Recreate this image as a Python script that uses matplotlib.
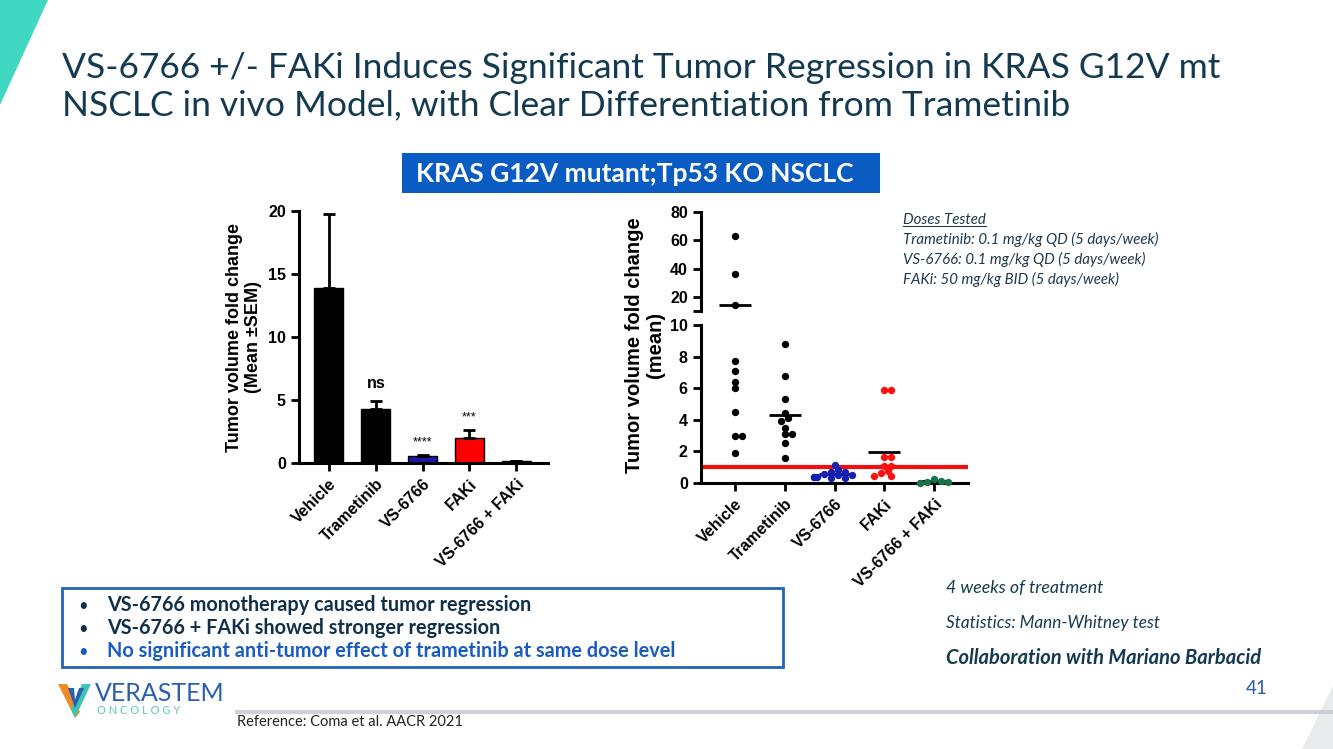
import matplotlib.pyplot as plt
from matplotlib.patches import Polygon, Rectangle
import numpy as np

# ---- data ----
groups = ["Vehicle", "Trametinib", "VS-6766", "FAKi", "VS-6766 + FAKi"]

bar_mean = [13.9, 4.3, 0.55, 1.95, 0.12]
bar_sem = [5.8, 0.6, 0.07, 0.65, 0.03]
bar_colors = ["black", "black", "#1a1aa6", "#ff0000", "black"]
bar_signif = ["ns", "****", "***"]
bar_signif_idx = [1, 2, 3]

vehicle_pts = [63, 36, 14.5, 7.7, 7.1, 6.4, 6.0, 4.5, 3.0, 3.0, 1.9]
trametinib_pts = [8.8, 6.8, 5.3, 4.4, 4.1, 3.9, 3.5, 3.1, 3.1, 2.5, 1.6]
vs6766_pts = [1.12, 0.85, 0.7, 0.7, 0.6, 0.49, 0.49, 0.38, 0.38, 0.38, 0.34, 0.34]
faki_pts = [5.9, 5.9, 1.65, 1.65, 1.05, 1.05, 0.75, 0.62, 0.45, 0.45]
combo_pts = [0.25, 0.15, 0.05, 0.05, 0.02]
scatter_data = [vehicle_pts, trametinib_pts, vs6766_pts, faki_pts, combo_pts]
scatter_colors = ["black", "black", "#1420b4", "#ff1010", "#17734a"]
baseline = 1.0

doses = ["Trametinib: 0.1 mg/kg QD (5 days/week)",
         "VS-6766: 0.1 mg/kg QD (5 days/week)",
         "FAKi: 50 mg/kg BID (5 days/week)"]

navy = "#133a50"
chart_font = "Liberation Sans"
slide_font = "Lato"

fig = plt.figure(figsize=(13.33, 7.49), dpi=100)

# ---- slide background layer (pixel coords) ----
bg = fig.add_axes([0, 0, 1, 1], zorder=0)
bg.set_xlim(0, 1333)
bg.set_ylim(749, 0)
bg.axis("off")

bg.add_patch(Polygon([(0, 0), (48, 0), (0, 105)], closed=True, color="#40d8c2", lw=0))
bg.add_patch(Polygon([(1333, 686), (1333, 749), (1302, 749)], closed=True, color="#e8eaec", lw=0))

bg.text(62, 78, "VS-6766 +/- FAKi Induces Significant Tumor Regression in KRAS G12V mt",
        fontsize=25.5, color=navy, family=slide_font, va="baseline")
bg.text(62, 115, "NSCLC in vivo Model, with Clear Differentiation from Trametinib",
        fontsize=25.5, color=navy, family=slide_font, va="baseline")

bg.add_patch(Rectangle((402, 153), 478, 40, color="#0a5bc2", lw=0))
bg.text(635, 174, "KRAS G12V mutant;Tp53 KO NSCLC", fontsize=19, color="white",
        family=slide_font, weight="bold", ha="center", va="center")

dose_title = bg.text(903, 224, "Doses Tested", fontsize=10.8, style="italic",
                     color="#1d3a4f", family=slide_font, va="baseline")
for i, d in enumerate(doses):
    bg.text(903, 244 + 20 * i, d, fontsize=10.8, style="italic", color="#1d3a4f",
            family=slide_font, va="baseline")

# bullet box
bg.add_patch(Rectangle((62, 588), 721, 79, fill=False, edgecolor="#2262b8", lw=2))
bullets = ["VS-6766 monotherapy caused tumor regression",
           "VS-6766 + FAKi showed stronger regression",
           "No significant anti-tumor effect of trametinib at same dose level"]
bullet_colors = ["#10304a", "#10304a", "#1a5bbf"]
for i, (b, c) in enumerate(zip(bullets, bullet_colors)):
    y = 611 + 23 * i
    bg.text(78, y, "•", fontsize=12, color=c, family=slide_font, va="baseline")
    bg.text(107, y, b, fontsize=14.3, color=c, family=slide_font, weight="bold", va="baseline")

# logo
bg.add_patch(Polygon([(58, 684), (67, 684), (80, 712), (75, 718)], closed=True, color="#f08a24", lw=0))
bg.add_patch(Polygon([(91, 684), (82, 684), (71, 709), (75, 718)], closed=True, color="#3cc4b4", lw=0))
bg.add_patch(Polygon([(68, 688), (74, 688), (75, 700), (79, 688), (84, 688), (75, 708)],
                     closed=True, color="#2a5fb0", lw=0))
bg.text(95, 701, "VERASTEM", fontsize=18, color="#2a5fb0", family=slide_font, va="baseline")
bg.text(97, 714, "O N C O L O G Y", fontsize=8, color="#5cc8b8", family=slide_font, va="baseline")

bg.plot([237, 1333], [712, 712], color="#cdd1d5", lw=3)
bg.text(237, 726, "Reference: Coma et al. AACR 2021", fontsize=10.5, color="#222222",
        family=slide_font, va="baseline")

bg.text(946, 593, "4 weeks of treatment", fontsize=12.8, style="italic", color=navy,
        family=slide_font, va="baseline")
bg.text(946, 628, "Statistics: Mann-Whitney test", fontsize=12.3, style="italic", color=navy,
        family=slide_font, va="baseline")
bg.text(946, 664, "Collaboration with Mariano Barbacid", fontsize=14.5, style="italic",
        weight="bold", color=navy, family=slide_font, va="baseline")
bg.text(1268, 694, "41", fontsize=13.5, color="#2a5db0", family=slide_font,
        ha="right", va="baseline")


def style_axis(ax):
    for s in ["top", "right"]:
        ax.spines[s].set_visible(False)
    for s in ["left", "bottom"]:
        ax.spines[s].set_linewidth(2.2)
    ax.tick_params(width=2, length=6, labelsize=11.5)
    for lab in ax.get_yticklabels():
        lab.set_fontweight("bold")
        lab.set_family(chart_font)
    ax.patch.set_alpha(0)


def rot_labels(ax, size):
    ax.set_xticks(range(len(groups)))
    ax.set_xticklabels(groups, rotation=45, ha="right", rotation_mode="anchor",
                       fontsize=size, fontweight="bold", family=chart_font)


# ---- left: bar chart ----
W, H = 1333, 749
ax1 = fig.add_axes([299 / W, 1 - 463 / H, 249 / W, 252.3 / H], zorder=2)
x = np.arange(len(groups))
ax1.bar(x, bar_mean, width=0.62, color=bar_colors, edgecolor="black", lw=1)
ax1.errorbar(x, bar_mean, yerr=[np.zeros(len(x)), bar_sem], fmt="none",
             ecolor="black", elinewidth=2, capsize=4, capthick=2, clip_on=False)
ax1.set_xlim(-0.64, 4.68)
ax1.set_ylim(0, 20)
ax1.set_yticks([0, 5, 10, 15, 20])
rot_labels(ax1, 12)
style_axis(ax1)
for lab, i in zip(bar_signif, bar_signif_idx):
    top = bar_mean[i] + bar_sem[i]
    if lab == "ns":
        ax1.annotate(lab, (i, top), xytext=(0, 7), textcoords="offset points",
                     ha="center", va="bottom", fontsize=11.5, fontweight="bold", family=chart_font)
    else:
        ax1.annotate(lab, (i, top), xytext=(0, 5), textcoords="offset points",
                     ha="center", va="bottom", fontsize=9, family=chart_font)
fig.text(244 / W, 1 - 337 / H, "Tumor volume fold change\n(Mean ±SEM)", rotation=90,
         ha="center", va="center", multialignment="center", fontsize=13,
         fontweight="bold", family=chart_font, linespacing=1.1)

# ---- right: broken-axis dot plot ----
axb = fig.add_axes([701 / W, 1 - 483 / H, 267 / W, 158 / H], zorder=2)
axt = fig.add_axes([701 / W, 1 - 311 / H, 267 / W, 99 / H], zorder=2)
xlim = (-0.68, 4.68)
px_per_x = 267 / (xlim[1] - xlim[0])
dot_d = 7.0


def swarm(vals, to_px):
    placed, offs = [], []
    for v in vals:
        y = to_px(v)
        for k in [0, 1, -1, 2, -2, 3, -3, 4, -4, 5, -5, 6, -6]:
            xo = k * dot_d * 0.5
            if all((xo - a) ** 2 + (y - b) ** 2 >= (dot_d * 0.75) ** 2 for a, b in placed):
                break
        placed.append((xo, y))
        offs.append(xo / px_per_x)
    return np.array(offs)


for i, (pts, c) in enumerate(zip(scatter_data, scatter_colors)):
    pts = np.array(pts, dtype=float)
    low = pts[pts <= 10]
    high = pts[pts > 10]
    if len(low):
        xo = swarm(low, lambda v: v * 15.8)
        axb.scatter(i + xo, low, s=28, color=c, zorder=3, clip_on=False, lw=0)
    if len(high):
        xo = swarm(high, lambda v: v * 1.42)
        axt.scatter(i + xo, high, s=28, color=c, zorder=3, clip_on=False, lw=0)
    m = pts.mean()
    target = axt if m > 10 else axb
    target.plot([i - 0.32, i + 0.32], [m, m], color="black", lw=2, zorder=2,
                solid_capstyle="butt")

axb.axhline(baseline, color="#ee1111", lw=3, zorder=1)
axb.set_xlim(*xlim)
axb.set_ylim(0, 10)
axb.set_yticks([0, 2, 4, 6, 8, 10])
rot_labels(axb, 12.5)
style_axis(axb)

axt.set_xlim(*xlim)
axt.set_ylim(10, 80)
axt.set_yticks([10, 20, 40, 60, 80])
axt.set_yticklabels(["", "20", "40", "60", "80"])
style_axis(axt)
axt.spines["bottom"].set_visible(False)
axt.tick_params(axis="x", bottom=False, labelbottom=False)

fig.text(645 / W, 1 - 345 / H, "Tumor volume fold change\n(mean)", rotation=90,
         ha="center", va="center", multialignment="center", fontsize=14.5,
         fontweight="bold", family=chart_font, linespacing=1.1)

# underline for "Doses Tested"
fig.canvas.draw()
bb = dose_title.get_window_extent()
inv = bg.transData.inverted()
(x0, y0), (x1, _) = inv.transform([(bb.x0, bb.y0), (bb.x1, bb.y0)])
bg.plot([x0, x1], [y0 - 1, y0 - 1], color="#1d3a4f", lw=0.8)

fig.savefig("out.png", dpi=100)
